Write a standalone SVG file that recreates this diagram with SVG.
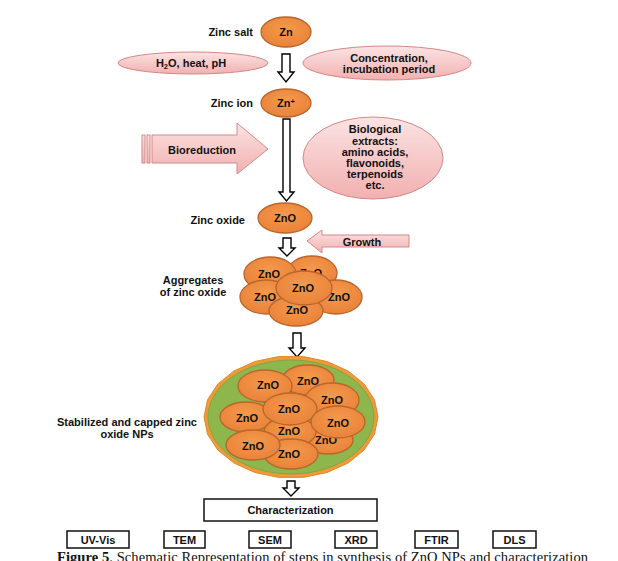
<svg xmlns="http://www.w3.org/2000/svg" width="618" height="561" viewBox="0 0 618 561">
<defs>
<linearGradient id="pink" x1="0" y1="0" x2="0" y2="1">
<stop offset="0" stop-color="#FBE3E3"/><stop offset="1" stop-color="#F2B0B0"/>
</linearGradient>
<radialGradient id="orng" cx="0.5" cy="0.4" r="0.6">
<stop offset="0" stop-color="#F49A4C"/><stop offset="1" stop-color="#E9823A"/>
</radialGradient>
<style>
text{font-family:"Liberation Sans",Arial,sans-serif;font-weight:bold;font-size:11px;fill:#111}
.c{text-anchor:middle}
.r{text-anchor:end}
.zn{fill:url(#orng);stroke:#B9652B;stroke-width:1.3}
.pk{fill:url(#pink);stroke:#D58787;stroke-width:1}
.ha{fill:#fff;stroke:#000;stroke-width:1.4}
.bx{fill:#fff;stroke:#111;stroke-width:1.5}
.cap{font-family:"Liberation Serif","Times New Roman",serif;font-weight:normal;font-size:14.5px}
</style>
</defs>
<rect width="618" height="561" fill="#fff"/>

<g id="connectors">
<path class="ha" d="M282,54 H290 V72 H294 L286,82 L278,72 H282 Z"/>
<path class="ha" d="M283,119 H290 V192 H294 L286.5,201 L279,192 H283 Z"/>
<path class="ha" d="M283,238 H291 V248 H295 L287,256 L279,248 H283 Z"/>
<path class="ha" d="M293,333 H301 V348 H305 L297,357 L289,348 H293 Z"/>
<path class="ha" d="M287,481 H295 V488 H299 L291,496 L283,488 H287 Z"/>
</g>

<g id="zinc-salt">
<text class="r" x="253" y="36">Zinc  salt</text>
<ellipse class="zn" cx="286" cy="32" rx="25" ry="15"/>
<text class="c" x="286" y="36">Zn</text>
</g>

<g id="conditions">
<ellipse class="pk" cx="193" cy="63" rx="75" ry="11"/>
<text class="c" x="191" y="67">H<tspan font-size="7.5" dy="2">2</tspan><tspan dy="-2">O, heat, pH</tspan></text>
</g>

<g id="concentration">
<ellipse class="pk" cx="387" cy="63" rx="84" ry="17"/>
<text class="c" x="389" y="62">Concentration,</text>
<text class="c" x="389" y="73">incubation period</text>
</g>

<g id="zinc-ion">
<text class="r" x="253" y="107">Zinc  ion</text>
<ellipse class="zn" cx="286" cy="103" rx="25" ry="14"/>
<text class="c" x="286" y="107">Zn<tspan font-size="7.5" dy="-3">+</tspan></text>
</g>

<g id="bioreduction">
<rect x="142" y="135" width="3" height="28" class="pk"/>
<rect x="147" y="135" width="3" height="28" class="pk"/>
<path class="pk" d="M152,135 H237 V123 L268,149 L237,174 V163 H152 Z"/>
<text class="c" x="202" y="154">Bioreduction</text>
</g>

<g id="biological-extracts">
<ellipse class="pk" cx="373" cy="158" rx="70" ry="41"/>
<text class="c" x="375" y="133">Biological</text>
<text class="c" x="375" y="145">extracts:</text>
<text class="c" x="375" y="156">amino acids,</text>
<text class="c" x="375" y="167">flavonoids,</text>
<text class="c" x="375" y="178">terpenoids</text>
<text class="c" x="375" y="189">etc.</text>
</g>

<g id="zinc-oxide">
<text class="r" x="245" y="224">Zinc  oxide</text>
<ellipse class="zn" cx="285" cy="218" rx="27" ry="15"/>
<text class="c" x="285" y="222">ZnO</text>
</g>

<g id="growth">
<path class="pk" d="M307,241 L322,230 V235 H409 V247 H322 V253 Z"/>
<text class="c" x="362" y="246">Growth</text>
</g>

<g id="aggregates">
<text class="c" x="193" y="284">Aggregates</text>
<text class="c" x="193" y="296">of zinc oxide</text>
<ellipse class="zn" cx="312" cy="273" rx="25" ry="17"/><text class="c" x="311" y="277">ZnO</text>
<ellipse class="zn" cx="270" cy="274" rx="26" ry="17"/><text class="c" x="269" y="278">ZnO</text>
<ellipse class="zn" cx="336" cy="297" rx="26" ry="17"/><text class="c" x="339" y="301">ZnO</text>
<ellipse class="zn" cx="266" cy="297" rx="26" ry="17"/><text class="c" x="265" y="301">ZnO</text>
<ellipse class="zn" cx="296" cy="311" rx="27" ry="15"/><text class="c" x="297" y="314">ZnO</text>
<ellipse class="zn" cx="304" cy="288" rx="28" ry="17"/><text class="c" x="303" y="292">ZnO</text>
</g>

<g id="capped-nps">
<text class="c" x="127" y="426">Stabilized and capped zinc</text>
<text class="c" x="127" y="438">oxide NPs</text>
<polygon points="378,417 374.5,434.2 364.2,450 348,463.1 327.1,472.5 303.4,477.4 278.6,477.4 254.9,472.5 234,463.1 217.8,450 207.5,434.2 204,417 207.5,399.8 217.8,384 234,370.9 254.9,361.5 278.6,356.6 303.4,356.6 327.1,361.5 348,370.9 364.2,384 374.5,399.8" fill="#EE9A3A" stroke="#E08A2A" stroke-width="1"/>
<ellipse cx="291" cy="417" rx="83" ry="57" fill="#8DB64C" stroke="#7FA040" stroke-width="0.8"/>
<ellipse class="zn" cx="308" cy="380" rx="26" ry="15"/><text class="c" x="308" y="385">ZnO</text>
<ellipse class="zn" cx="265" cy="386" rx="27" ry="16"/><text class="c" x="268" y="389">ZnO</text>
<ellipse class="zn" cx="332" cy="400" rx="27" ry="17"/><text class="c" x="332" y="404">ZnO</text>
<ellipse class="zn" cx="246" cy="417" rx="26" ry="15"/><text class="c" x="247" y="422">ZnO</text>
<ellipse class="zn" cx="328" cy="440" rx="25" ry="14"/><text class="c" x="326" y="444">ZnO</text>
<ellipse class="zn" cx="290" cy="432" rx="26" ry="15"/><text class="c" x="289" y="435">ZnO</text>
<ellipse class="zn" cx="291" cy="454" rx="27" ry="15"/><text class="c" x="289" y="458">ZnO</text>
<ellipse class="zn" cx="290" cy="409" rx="27" ry="16"/><text class="c" x="289" y="413">ZnO</text>
<ellipse class="zn" cx="338" cy="422" rx="27" ry="16"/><text class="c" x="338" y="427">ZnO</text>
<ellipse class="zn" cx="253" cy="445" rx="27" ry="15"/><text class="c" x="253" y="450">ZnO</text>
</g>

<g id="characterization">
<rect class="bx" x="204" y="499" width="173" height="22"/>
<text class="c" x="290.5" y="514">Characterization</text>
</g>
<g id="uv-vis"><rect class="bx" x="67" y="531" width="62" height="17"/><text class="c" x="98" y="543.5">UV-Vis</text></g>
<g id="tem"><rect class="bx" x="164" y="531" width="41" height="17"/><text class="c" x="184.5" y="543.5">TEM</text></g>
<g id="sem"><rect class="bx" x="249" y="531" width="42" height="17"/><text class="c" x="270" y="543.5">SEM</text></g>
<g id="xrd"><rect class="bx" x="335" y="531" width="42" height="17"/><text class="c" x="356" y="543.5">XRD</text></g>
<g id="ftir"><rect class="bx" x="415" y="531" width="43" height="17"/><text class="c" x="436.5" y="543.5">FTIR</text></g>
<g id="dls"><rect class="bx" x="493" y="531" width="43" height="17"/><text class="c" x="514.5" y="543.5">DLS</text></g>

<text class="cap" x="57" y="562" textLength="531" lengthAdjust="spacing"><tspan font-weight="bold">Figure 5</tspan>. Schematic Representation of steps in synthesis of ZnO NPs and characterization</text>
</svg>
